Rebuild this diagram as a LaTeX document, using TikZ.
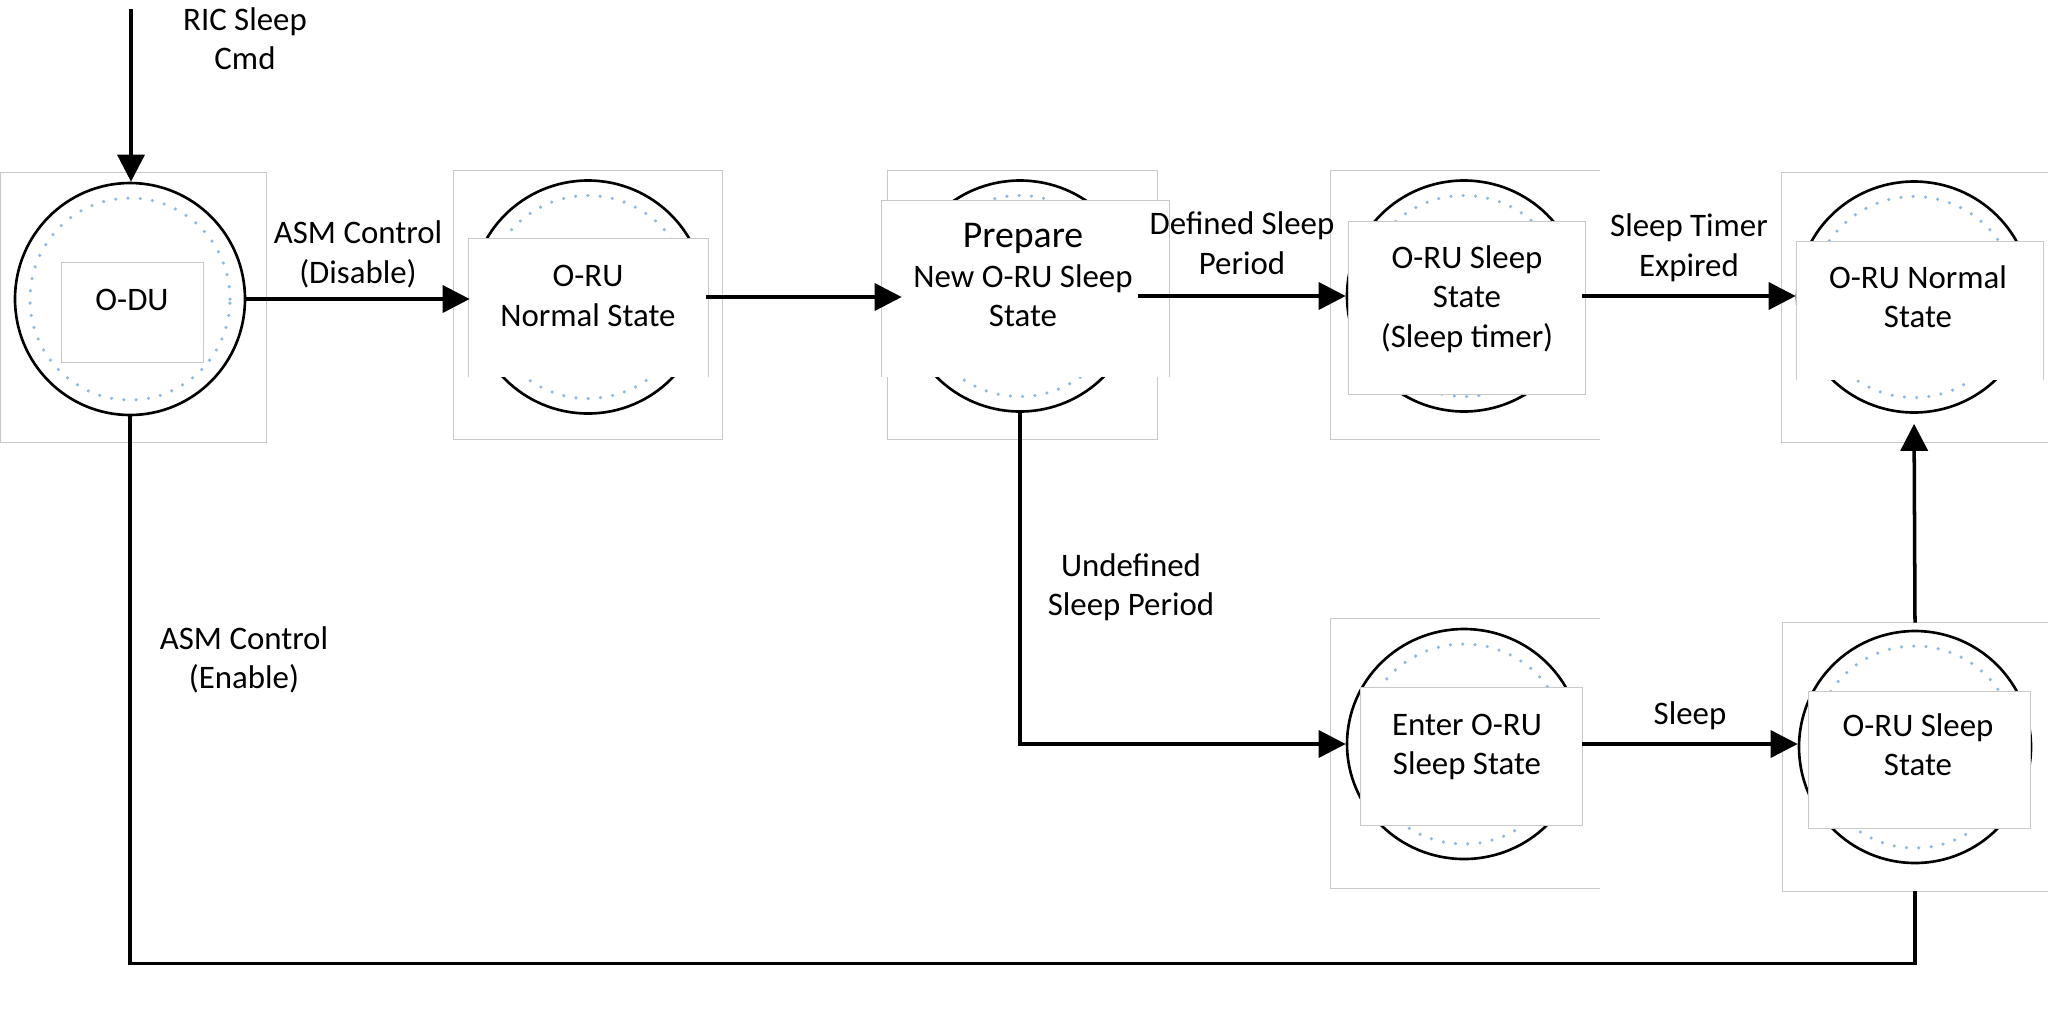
\documentclass[tikz,border=0pt]{standalone}
\usepackage{fontspec}
\setmainfont{Carlito}
\usetikzlibrary{arrows.meta,shapes.geometric}

\definecolor{framegray}{RGB}{200,200,200}
\definecolor{boxgray}{RGB}{205,205,205}
\definecolor{dotblue}{RGB}{140,185,230}

\begin{document}
\begin{tikzpicture}[
    font=\fontsize{18.7}{22.4}\selectfont,
    frame/.style={fill=white, inner sep=0pt},
    edge/.style={draw=framegray, line width=0.6pt},
    state/.style={ellipse, draw=black, line width=1.5pt, inner sep=0pt},
    inbox/.style={fill=white, inner sep=0pt},
    lbl/.style={align=center},
    flow/.style={line width=2pt, -{Triangle[length=0.54cm, width=0.54cm]}},
    link/.style={line width=2pt},
    ring/.style={dotblue, line width=2pt, line cap=round, dash pattern=on 0pt off 7pt}
  ]

  \useasboundingbox (0,0) rectangle (40.96,-20.48);

  % frames behind the states
  \foreach \n/\x/\y/\w/\h in {1/2.67/-6.15/5.30/5.38, 2/11.76/-6.10/5.36/5.36,
      3/20.45/-6.10/5.38/5.36, 4/29.31/-6.10/5.38/5.36, 5/38.52/-6.15/5.76/5.38,
      6/29.31/-15.07/5.38/5.38, 7/38.53/-15.14/5.74/5.36}{
      \node[frame, minimum width=\w cm, minimum height=\h cm] (fr\n) at (\x,\y) {};
    }
  \foreach \n in {1,2,3,5,7}{
      \draw[edge] (fr\n.south west) rectangle (fr\n.north east);
    }
  \foreach \n in {4,6}{
      \draw[edge] (fr\n.north east) -- (fr\n.north west) -- (fr\n.south west) -- (fr\n.south east);
    }

  \foreach \n/\x/\y/\w/\h in {1/2.60/-5.98/4.60/4.64, 2/11.76/-5.94/4.68/4.66,
      3/20.40/-5.92/4.68/4.62, 4/29.28/-5.92/4.68/4.62, 5/38.28/-5.94/4.68/4.62,
      6/29.28/-14.88/4.68/4.60, 7/38.30/-14.94/4.64/4.64}{
      \node[state, minimum width=\w cm, minimum height=\h cm] (e\n) at (\x,\y) {};
      \draw[ring] (\x,\y) ellipse ({\w/2-0.3} and {\h/2-0.3});
    }

  \foreach \n/\x/\y/\w/\h in {1/2.65/-6.25/2.82/1.98, 2/11.77/-6.16/4.78/2.76,
      3/20.51/-5.78/5.74/3.52, 4/29.34/-6.16/4.72/3.44, 5/38.40/-6.22/4.92/2.76,
      6/29.43/-15.13/4.42/2.74, 7/38.39/-15.20/4.42/2.72}{
      \node[inbox, minimum width=\w cm, minimum height=\h cm] (b\n) at (\x,\y) {};
    }
  \foreach \n in {1,4,6,7}{
      \draw[edge] (b\n.south west) rectangle (b\n.north east);
    }
  \foreach \n in {2,3,5}{
      \draw[edge] (b\n.south west) -- (b\n.north west) -- (b\n.north east) -- (b\n.south east);
    }

  \node[lbl] (du) at (2.64,-6.00) {O-DU};
  \node[lbl] (ruNormal) at (11.76,-5.92) {O-RU\\Normal State};
  \node[lbl] (prep) at (20.46,-5.50) {{\fontsize{21.5}{22.4}\selectfont Prepare}\\New O-RU Sleep\\State};
  \node[lbl] (ruTimer) at (29.34,-5.98) {O-RU Sleep\\State\\(Sleep timer)};
  \node[lbl] (ruWake) at (38.36,-5.94) {O-RU Normal\\State};
  \node[lbl] (enter) at (29.34,-14.94) {Enter O-RU\\Sleep State};
  \node[lbl] (ruSleep) at (38.36,-14.90) {O-RU Sleep\\State};

  % transitions
  \coordinate (cmd) at (2.62,-0.18);
  \draw[flow] (cmd) -- (cmd |- e1.north);
  \node[lbl] (ricT) at (4.90,-0.77) {RIC Sleep\\Cmd};

  \draw[flow] (e1.east) -- (e1.east -| e2.west)
  node[lbl, midway, above=2pt] (disT) {ASM Control\\(Disable)};
  \draw[flow] (e2.east) -- (e2.east -| e3.west);
  \draw[flow] (e3.east) -- (e3.east -| e4.west)
  node[lbl, midway, above=8pt] (defT) {Defined Sleep\\Period};
  \draw[flow] (e4.east) -- (e4.east -| e5.west)
  node[lbl, midway, above=4pt] (expT) {Sleep Timer\\Expired};

  \draw[flow] (e3.south) |- (e6.west);
  \node[lbl] (undefT) at (22.62,-11.74) {Undefined\\Sleep Period};

  \draw[flow] (e6.east) -- (e6.east -| e7.west)
  node[lbl, midway, above=4pt] (sleepT) {Sleep};
  \draw[flow, shorten >=0.2cm] (e7.north |- fr7.north) -- (e5.south);

  \draw[link] (e1.south) |- ([yshift=-1.44cm]e7.south |- fr7.south) -- (e7.south |- fr7.south);
  \node[lbl] (enT) at (4.88,-13.20) {ASM Control\\(Enable)};

\end{tikzpicture}
\end{document}
